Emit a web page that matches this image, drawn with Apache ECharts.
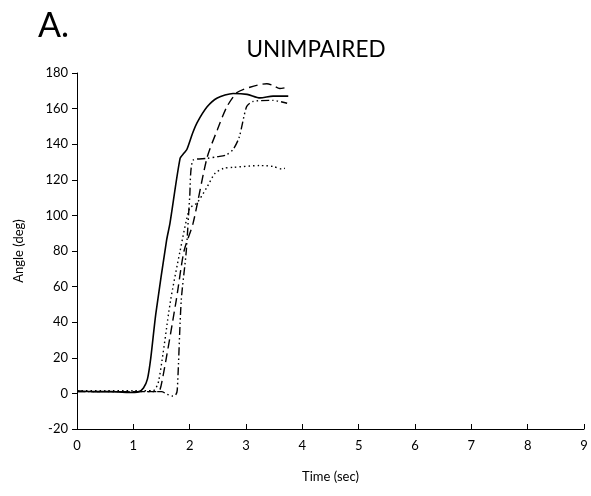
<!DOCTYPE html>
<html><head><meta charset="utf-8">
<script src="https://cdn.jsdelivr.net/npm/echarts@6/dist/echarts.min.js"></script>
<style>html,body{margin:0;padding:0;background:#fff}#c{width:591px;height:496px}</style>
</head><body><div id="c"></div>
<script>
const xTicks = [0,1,2,3,4,5,6,7,8,9];
const yTicks = [-20,0,20,40,60,80,100,120,140,160,180];

const solidT = [0,0.3,0.6,0.9,1.1,1.18,1.25,1.31,1.4,1.59,1.65,1.83,1.9,1.95,2.05,2.13,2.31,2.49,2.77,3.02,3.25,3.48,3.75];
const solidA = [1.5,1,1,0.5,1,3,8,20,45,86,95.5,132,135,137,146,152,161,166,168.5,168,166,167,167];

const dashT = [0,0.5,1,1.44,1.51,1.76,1.9,2.06,2.31,2.49,2.66,2.84,3.07,3.37,3.48,3.6,3.75];
const dashA = [1,1,1,1,7,52,80,95.5,132.6,148,161,169,172,174,173,171.3,172];

const dotT = [0,0.5,1,1.35,1.45,1.66,1.83,2.0,2.13,2.31,2.45,2.6,2.77,3.25,3.48,3.64,3.69];
const dotA = [1.5,1.5,1.5,1.5,7,52,80,104,107,116,123.6,126.4,127,128,127.5,126,126.5];

const ddT = [0,0.5,1,1.5,1.6,1.69,1.75,1.78,1.85,1.94,2.0,2.06,2.3,2.5,2.65,2.77,2.88,3.01,3.12,3.48,3.73];
const ddA = [1,1,1,1,-0.5,-1.5,-1,2,52,80,110,131,132,133,134,137,144,161,164,164.6,163];

function pairs(t,a){return t.map((v,i)=>[v,a[i]]);}
const ff = 'Lato, "Open Sans", sans-serif';
function line(name,t,a,type,w){
  return {name,type:'line',data:pairs(t,a),showSymbol:false,smooth:0.25,
    lineStyle:{color:'#000',width:w,type:type},animation:false};
}
const chart = echarts.init(document.getElementById('c'),null,{renderer:'canvas'});
chart.setOption({
  animation:false,
  backgroundColor:'#fff',
  title:[
    {text:'A.',left:33,top:4,textStyle:{fontFamily:ff,fontWeight:'normal',fontSize:34,color:'#000'}},
    {text:'UNIMPAIRED',left:311,top:33,textAlign:'center',textStyle:{fontFamily:ff,fontWeight:'normal',fontSize:22.5,color:'#000'}}
  ],
  grid:{left:77,right:7,top:73,bottom:67,containLabel:false},
  xAxis:{type:'value',min:0,max:9,interval:1,
    name:'Time (sec)',nameLocation:'middle',nameGap:41,
    nameTextStyle:{fontFamily:ff,fontSize:13,color:'#000'},
    axisLine:{onZero:false,lineStyle:{color:'#000',width:1}},
    axisTick:{inside:true,length:5,lineStyle:{color:'#000'}},
    axisLabel:{fontFamily:ff,fontSize:13,color:'#000',margin:10,formatter:v=>xTicks.includes(v)?String(v):''},
    splitLine:{show:false}},
  yAxis:{type:'value',min:-20,max:180,interval:20,
    name:'Angle (deg)',nameLocation:'middle',nameGap:52,nameRotate:90,
    nameTextStyle:{fontFamily:ff,fontSize:13,color:'#000'},
    axisLine:{show:true,onZero:false,lineStyle:{color:'#000',width:1}},
    axisTick:{show:true,inside:false,length:5,lineStyle:{color:'#000'}},
    axisLabel:{fontFamily:ff,fontSize:13,color:'#000',margin:9,formatter:v=>yTicks.includes(v)?String(v):''},
    splitLine:{show:false}},
  series:[
    line('s1',solidT,solidA,'solid',1.6),
    line('s2',dashT,dashA,[9,5],1.4),
    line('s3',dotT,dotA,[1.5,3],1.4),
    line('s4',ddT,ddA,[8,3,1.5,3,1.5,3],1.4)
  ]
});
</script></body></html>
